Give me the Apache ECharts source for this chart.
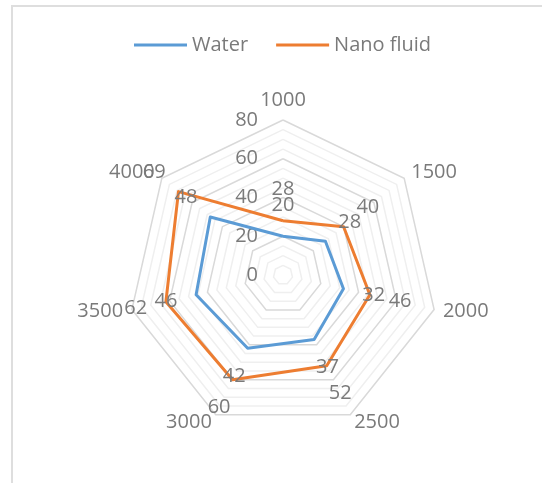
<!DOCTYPE html>
<html><head><meta charset="utf-8">
<script src="https://cdn.jsdelivr.net/npm/echarts@6/dist/echarts.min.js"></script>
<style>html,body{margin:0;padding:0;background:#fff}
#wrap{position:relative;width:542px;height:483px;overflow:hidden;background:#fff}
#frame{position:absolute;left:11px;top:5px;width:700px;height:700px;border-left:2px solid #dedede;border-top:2px solid #dedede}
#chart{position:absolute;left:0;top:0;width:542px;height:483px}
</style></head><body>
<div id="wrap"><div id="frame"></div><div id="chart"></div></div>
<script>
const categories = ['1000','1500','2000','2500','3000','3500','4000'];
const waterValues = [20, 28, 32, 37, 42, 46, 48];
const nanoValues = [28, 40, 46, 52, 60, 62, 69];
const tickLabels = [0, 20, 40, 60, 80];
const axisMax = 80;

const FONT = 'Open Sans';
const TXT = '#7a7a7a';
const CX = 283, CY = 275, R = 155;
const LABEL_DIST = 31;

// ECharts radar lays indicators counter-clockwise; reorder so that reading is clockwise
const order = [0, 6, 5, 4, 3, 2, 1];
const indicator = order.map((k, j) => ({
  name: categories[k], max: axisMax, min: 0,
  axisLabel: { show: j === 0 }
}));
const reorder = arr => order.map(k => arr[k]);

const labelSeries = (name, vals) => ({
  type: 'scatter', coordinateSystem: 'polar', name: name,
  symbol: 'circle', symbolSize: 2,
  itemStyle: { color: 'rgba(0,0,0,0)' }, silent: true, z: 5,
  label: { show: true, position: 'inside', color: TXT, fontFamily: FONT, fontSize: 20,
    opacity: 1, textBorderWidth: 0, textShadowBlur: 0,
    formatter: p => String(p.value[0]) },
  emphasis: { disabled: true },
  labelLayout: p => {
    const a = p.dataIndex * 2 * Math.PI / categories.length;
    return { dx: LABEL_DIST * Math.sin(a), dy: -LABEL_DIST * Math.cos(a), hideOverlap: false };
  },
  data: vals.map((v, i) => [v, i])
});

const chart = echarts.init(document.getElementById('chart'), null, { renderer: 'canvas' });
chart.setOption({
  animation: false,
  textStyle: { fontFamily: FONT },
  legend: {
    left: 129, top: 30,
    itemWidth: 53, itemHeight: 3, itemGap: 28,
    icon: 'rect',
    textStyle: { fontFamily: FONT, fontSize: 20, color: TXT },
    data: ['Water', 'Nano fluid']
  },
  radar: {
    center: [CX, CY], radius: R, startAngle: 90,
    splitNumber: 16, shape: 'polygon',
    indicator: indicator,
    axisName: { color: TXT, fontFamily: FONT, fontSize: 20 },
    axisNameGap: 9,
    axisLine: { show: false },
    axisTick: { show: false },
    axisLabel: {
      show: false, color: TXT, fontFamily: FONT, fontSize: 20, margin: 25,
      formatter: v => (tickLabels.indexOf(v) >= 0 ? String(v) : '')
    },
    splitArea: { show: false },
    splitLine: { lineStyle: { color: ['#d9d9d9', '#efefef', '#efefef', '#efefef'], width: 1.5 } }
  },
  polar: { center: [CX, CY], radius: R },
  angleAxis: {
    type: 'category', data: categories, boundaryGap: false, startAngle: 90, clockwise: true,
    axisLine: { show: false }, axisTick: { show: false }, axisLabel: { show: false }, splitLine: { show: false }
  },
  radiusAxis: {
    type: 'value', min: 0, max: axisMax,
    axisLine: { show: false }, axisTick: { show: false }, axisLabel: { show: false }, splitLine: { show: false }
  },
  series: [
    {
      type: 'radar', name: 'Water', symbol: 'none',
      color: '#5b9bd5',
      lineStyle: { width: 3, color: '#5b9bd5' },
      data: [{ name: 'Water', value: reorder(waterValues) }]
    },
    {
      type: 'radar', name: 'Nano fluid', symbol: 'none',
      color: '#ed7d31',
      lineStyle: { width: 3, color: '#ed7d31' },
      data: [{ name: 'Nano fluid', value: reorder(nanoValues) }]
    },
    labelSeries('waterLabels', waterValues),
    labelSeries('nanoLabels', nanoValues)
  ]
});
</script></body></html>
